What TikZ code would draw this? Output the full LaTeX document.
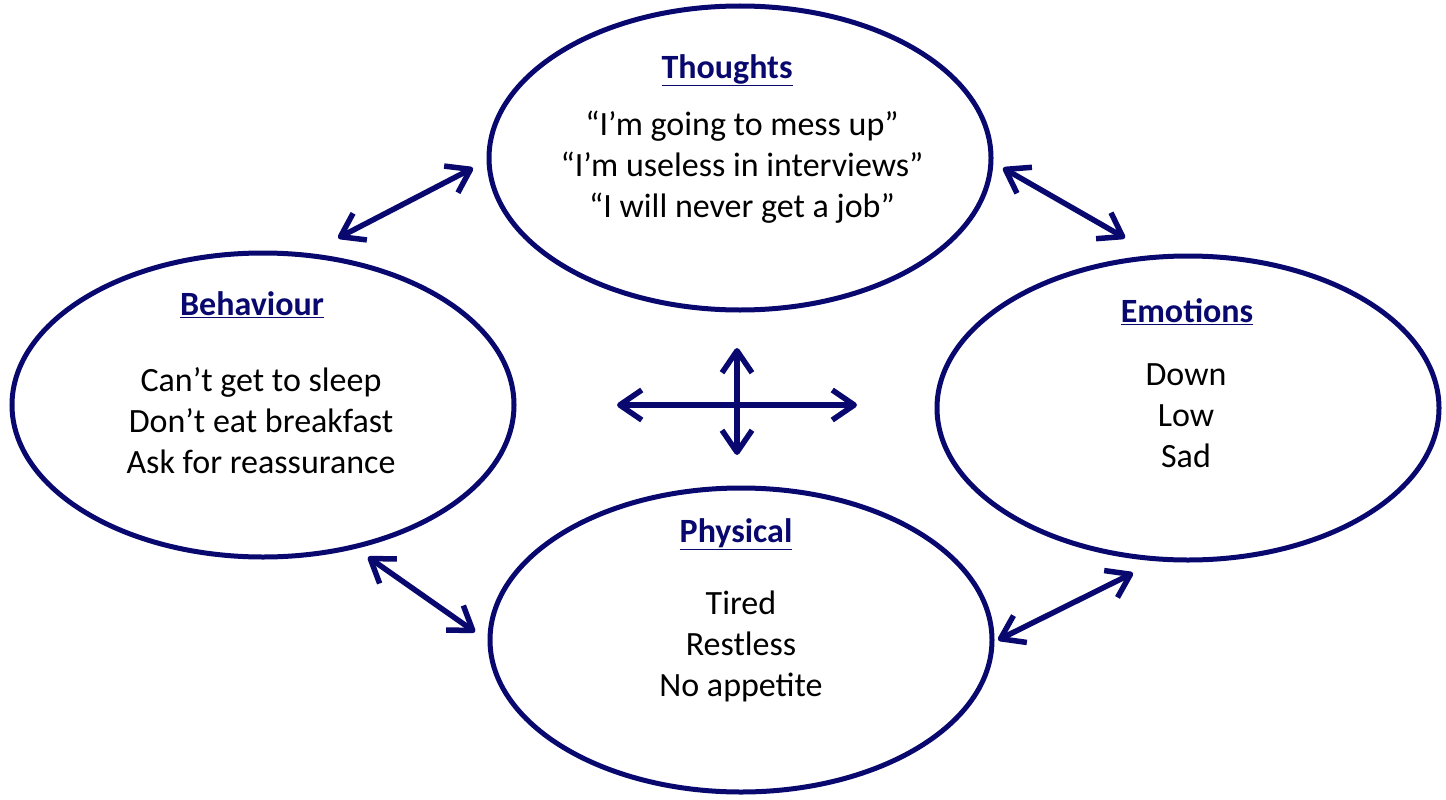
\documentclass[tikz,border=0pt]{standalone}
\usepackage{fontspec}
\setmainfont{Carlito}
\usetikzlibrary{arrows.meta,shapes.geometric}
\definecolor{navy}{RGB}{8,8,110}
\begin{document}
\begin{tikzpicture}[x=1pt,y=-1pt]

      \tikzset{area/.style={draw=navy, line width=5pt, ellipse, minimum width=502pt, minimum height=304pt, inner sep=0pt}}
      \tikzset{heading/.style={font=\fontsize{34}{41}\selectfont\bfseries, text=navy, inner sep=0pt}}
      \tikzset{items/.style={font=\fontsize{34}{41}\selectfont, align=center, inner sep=0pt}}
      \tikzset{link/.style={draw=navy, line width=5.5pt, line cap=round, {Straight Barb[length=22pt,width=30pt,line join=round]}-{Straight Barb[length=22pt,width=30pt,line join=round]}}}
      \useasboundingbox (0,0) rectangle (1446,800);
%% Areas
      	\node[area] (thoughts) at (740,158) {};
      	\node[area] (behaviour) at (263,405) {};
      	\node[area] (emotions) at (1188,408) {};
      	\node[area] (physical) at (741,640) {};
%% Texts
      	\node[heading] (thoughtsT) at (727,70) {\underline{Thoughts}};
      	\node[items] (thoughtsB) at (742,167) {“I’m going to mess up”\\“I’m useless in interviews”\\“I will never get a job”};
      	\node[heading] (behaviourT) at (252,305) {\underline{Behaviour}};
      	\node[items] (behaviourB) at (261,421) {Can’t get to sleep\\Don’t eat breakfast\\Ask for reassurance};
      	\node[heading] (emotionsT) at (1187,312) {\underline{Emotions}};
      	\node[items] (emotionsB) at (1186,416) {Down\\Low\\Sad};
      	\node[heading] (physicalT) at (736,534) {\underline{Physical}};
      	\node[items] (physicalB) at (741,646) {Tired\\Restless\\No appetite};
%% Arrow ends
      	\coordinate (tl1) at (338,238); \coordinate (tl2) at (473,168);
      	\coordinate (tr1) at (1003,168); \coordinate (tr2) at (1125,238);
      	\coordinate (bl1) at (368,557); \coordinate (bl2) at (475,632);
      	\coordinate (br1) at (998,640); \coordinate (br2) at (1133,573);
      	\coordinate (ml) at (617,405); \coordinate (mr) at (857,405);
      	\coordinate (mt) at (737,348); \coordinate (mb) at (737,455);
%Arrows
		\draw [link] (tl1) -- (tl2);
		\draw [link] (tr1) -- (tr2);
		\draw [link] (bl1) -- (bl2);
		\draw [link] (br1) -- (br2);
		\draw [link] (ml) -- (mr);
		\draw [link] (mt) -- (mb);

\end{tikzpicture}
\end{document}
